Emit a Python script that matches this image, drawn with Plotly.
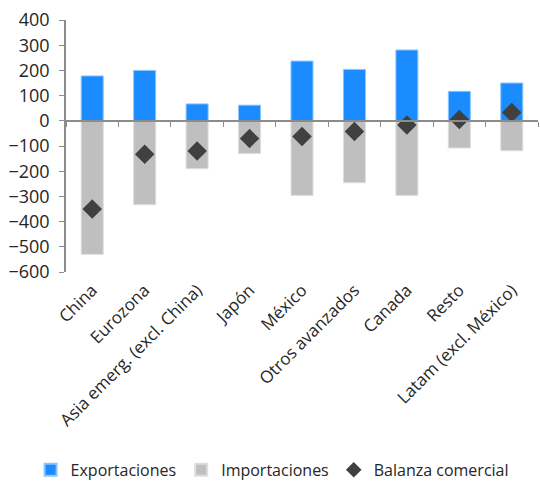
import plotly.graph_objects as go

categories = ["China", "Eurozona", "Asia emerg. (excl. China)", "Japón", "México",
              "Otros avanzados", "Canada", "Resto", "Latam (excl. México)"]
exportaciones = [178, 200, 67, 62, 237, 204, 281, 117, 150]
importaciones = [-530, -333, -190, -130, -296, -246, -296, -108, -119]
balanza = [-350, -133, -120, -70, -62, -42, -17, 5, 33]

y_ticks = [400, 300, 200, 100, 0, -100, -200, -300, -400, -500, -600]

FONT = "Open Sans"
AXIS_GREY = "#8c8c8c"

fig = go.Figure()
fig.add_trace(go.Bar(
    x=categories, y=exportaciones, name="Exportaciones",
    marker=dict(color="#1a8cff", line=dict(color="#8cc4ff", width=1)),
    width=0.42,
))
fig.add_trace(go.Bar(
    x=categories, y=importaciones, name="Importaciones",
    marker=dict(color="#bfbfbf", line=dict(color="#dedede", width=1)),
    width=0.42,
))
fig.add_trace(go.Scatter(
    x=categories, y=balanza, name="Balanza comercial", mode="markers",
    xaxis="x2",
    marker=dict(symbol="diamond", size=15, color="#404040"),
))

ymin, ymax = -600, 400
fig.update_layout(
    width=540, height=483,
    margin=dict(l=66, r=2, t=20, b=211, autoexpand=False),
    plot_bgcolor="white", paper_bgcolor="white",
    barmode="relative",
    font=dict(family=FONT, size=16, color="#262626"),
    showlegend=True,
    legend=dict(orientation="h", x=-0.075, xanchor="left", y=-0.785, yanchor="middle",
                font=dict(size=16), itemsizing="constant", traceorder="normal",
                tracegroupgap=0, itemwidth=30),
    xaxis=dict(
        categoryorder="array", categoryarray=categories,
        showline=False, ticks="", showgrid=False, zeroline=False,
        tickangle=-45, tickfont=dict(size=17), automargin=False,
        ticklabelstandoff=4,
        range=[-0.5, len(categories) - 0.5],
    ),
    # zero-line axis carrying the boundary tick marks
    xaxis2=dict(
        matches="x", overlaying="x", anchor="free",
        position=(0 - ymin) / (ymax - ymin),
        categoryorder="array", categoryarray=categories,
        showline=True, linecolor=AXIS_GREY, linewidth=1.5,
        ticks="outside", tickson="boundaries", ticklen=5, tickcolor=AXIS_GREY,
        showticklabels=False, showgrid=False, zeroline=False, automargin=False,
    ),
    yaxis=dict(
        range=[ymin, ymax], tickvals=y_ticks,
        showline=True, linecolor=AXIS_GREY, linewidth=1.5,
        ticks="outside", ticklen=5, tickcolor=AXIS_GREY,
        showgrid=False, zeroline=False, automargin=False,
        tickfont=dict(size=18), ticklabelstandoff=6,
    ),
)

fig.write_html("out.html")
